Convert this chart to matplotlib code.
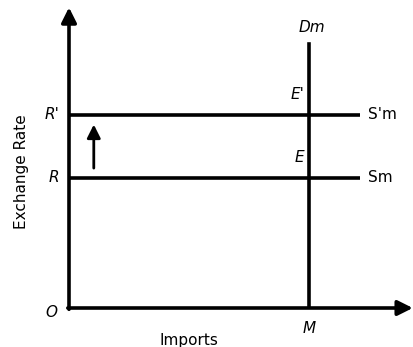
import matplotlib
matplotlib.use("Agg")
import matplotlib.pyplot as plt

# exchange rate levels (before / after) and import quantity
rate_levels = [2.0, 2.97]
rate_labels = ["R", "R'"]
supply_labels = ["Sm", "S'm"]
point_labels = ["E", "E'"]
imports_qty = 6.0
demand_top = 4.05
supply_end = 7.27

fig = plt.figure(figsize=(4.14, 3.47), dpi=100)
ax = fig.add_axes([69 / 414, 39 / 347, 341 / 414, 298 / 347])
ax.set_xlim(0, 8.53)
ax.set_ylim(0, 4.58)
ax.axis("off")

lw = 2.6
arrow = dict(arrowstyle="-|>,head_length=0.5,head_width=0.25", lw=lw, color="black",
             mutation_scale=18, shrinkA=0, shrinkB=0)
# axes with arrowheads
ax.annotate("", xy=(0, 4.62), xytext=(0, -0.02), arrowprops=arrow,
            annotation_clip=False)
ax.annotate("", xy=(8.6, 0), xytext=(-0.03, 0), arrowprops=arrow,
            annotation_clip=False)

# supply lines
for r in rate_levels:
    ax.plot([0, supply_end], [r, r], color="black", lw=lw, solid_capstyle="butt")

# demand (vertical)
ax.plot([imports_qty, imports_qty], [0, demand_top], color="black", lw=lw)

# upward shift arrow
ax.annotate("", xy=(0.62, rate_levels[1] - 0.15), xytext=(0.62, rate_levels[0] + 0.15),
            arrowprops=dict(arrowstyle="-|>,head_length=0.5,head_width=0.25", lw=2.0,
                            color="black", mutation_scale=16, shrinkA=0, shrinkB=0))

fs = 11
for r, lab in zip(rate_levels, rate_labels):
    ax.text(-0.25, r, lab, ha="right", va="center", fontsize=fs, style="italic", clip_on=False)
for r, lab in zip(rate_levels, supply_labels):
    ax.text(supply_end + 0.2, r, lab, ha="left", va="center", fontsize=fs, clip_on=False)
for r, lab in zip(rate_levels, point_labels):
    ax.text(imports_qty - 0.12, r + 0.2, lab, ha="right", va="bottom", fontsize=fs,
            style="italic")
ax.text(imports_qty + 0.08, demand_top + 0.15, "Dm", ha="center", va="bottom",
        fontsize=fs, style="italic")
ax.text(-0.3, -0.07, "O", ha="right", va="center", fontsize=fs, style="italic", clip_on=False)
ax.text(imports_qty, -0.2, "M", ha="center", va="top", fontsize=fs, style="italic", clip_on=False)
ax.text(3.0, -0.38, "Imports", ha="center", va="top", fontsize=11, clip_on=False)
ax.text(-1.2, 2.1, "Exchange Rate", ha="center", va="center", rotation=90,
        fontsize=11, clip_on=False)

fig.savefig("out.png", dpi=100)
